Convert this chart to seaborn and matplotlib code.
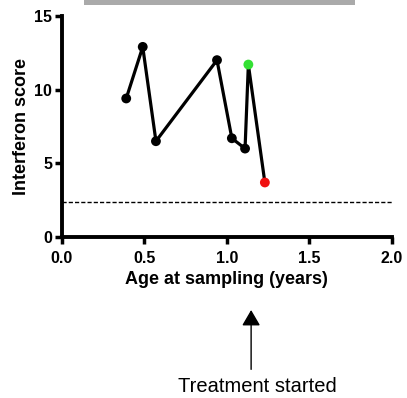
import matplotlib
matplotlib.use("Agg")
import matplotlib.pyplot as plt
import matplotlib.patches as patches
import seaborn as sns
import pandas as pd

# data
ages = [0.39, 0.49, 0.57, 0.94, 1.03, 1.11, 1.13, 1.23]
scores = [9.4, 12.9, 6.5, 12.0, 6.7, 6.0, 11.7, 3.7]
point_colors = ["black", "black", "black", "black", "black", "black", "#33e033", "#f01010"]
threshold = 2.4
x_ticks = [0.0, 0.5, 1.0, 1.5, 2.0]
y_ticks = [0, 5, 10, 15]

df = pd.DataFrame({"age": ages, "score": scores, "color": point_colors})

sns.set_style("ticks", {"axes.edgecolor": "black", "xtick.color": "black", "ytick.color": "black",
                        "text.color": "black", "axes.labelcolor": "black"})
plt.rcParams["font.family"] = ["Liberation Sans", "DejaVu Sans"]

fig = plt.figure(figsize=(4.07, 3.98), dpi=100)
ax = fig.add_axes([0.152, 0.4045, 0.811, 0.5555])

sns.lineplot(data=df, x="age", y="score", sort=False, color="black", linewidth=2.3, ax=ax)
sns.scatterplot(data=df, x="age", y="score", hue="color", palette={c: c for c in set(point_colors)},
                s=50, edgecolor="none", legend=False, zorder=3, ax=ax)
ax.axhline(threshold, color="black", linestyle=(0, (3, 1.5)), linewidth=1)

ax.set_xlim(0, 2.0)
ax.set_ylim(0, 15)
ax.set_xticks(x_ticks)
ax.set_xticklabels([f"{t:.1f}" for t in x_ticks])
ax.set_yticks(y_ticks)
ax.tick_params(width=2.5, length=5, labelsize=11.5, colors="black")
ax.tick_params(axis="x", pad=5)
ax.tick_params(axis="y", pad=2)
for lab in ax.get_xticklabels() + ax.get_yticklabels():
    lab.set_fontweight("bold")
for side in ["left", "bottom"]:
    ax.spines[side].set_linewidth(2.8)
    ax.spines[side].set_color("black")
sns.despine(ax=ax)
ax.set_xlabel("Age at sampling (years)", fontsize=13, fontweight="bold", labelpad=4)
ax.set_ylabel("Interferon score", fontsize=13, fontweight="bold", labelpad=3)

# grey bar across the top
fig.patches.append(patches.Rectangle((0.206, 0.988), 0.666, 0.02, transform=fig.transFigure,
                                     facecolor="#aaaaaa", edgecolor="none"))

fig.text(0.632, 0.03, "Treatment started", ha="center", va="center", fontsize=14.5)
fig.add_artist(patches.FancyArrowPatch((0.617, 0.065), (0.617, 0.228), transform=fig.transFigure,
                                       arrowstyle="-|>,head_length=6,head_width=3.5",
                                       color="black", linewidth=1, mutation_scale=1.6))

fig.savefig("out.png", dpi=100)
